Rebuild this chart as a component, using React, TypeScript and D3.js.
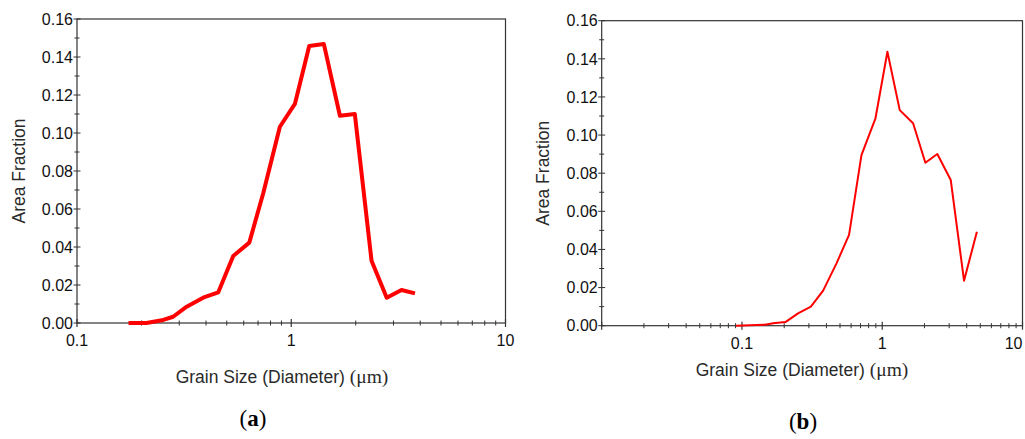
import React, { useEffect, useRef } from "react";
import * as d3 from "d3";

// panel (a)
const sizeA = [0.174, 0.211, 0.253, 0.281, 0.325, 0.388, 0.456, 0.536, 0.637, 0.74, 0.885, 1.04, 1.213, 1.42, 1.687, 1.98, 2.37, 2.79, 3.27, 3.78];
const fracA = [0, 0, 0.0016, 0.0033, 0.0086, 0.0133, 0.0161, 0.0353, 0.0423, 0.0683, 0.1033, 0.1153, 0.1458, 0.1468, 0.1091, 0.11, 0.0328, 0.0133, 0.0174, 0.0156];

// panel (b)
const sizeB = [0.0905, 0.146, 0.167, 0.204, 0.251, 0.31, 0.379, 0.472, 0.58, 0.711, 0.895, 1.089, 1.333, 1.66, 2.03, 2.47, 3.08, 3.83, 4.73];
const fracB = [0, 0.0005, 0.0013, 0.0019, 0.0065, 0.01, 0.0184, 0.0327, 0.0476, 0.0895, 0.1088, 0.1437, 0.1131, 0.1062, 0.0855, 0.0901, 0.0764, 0.0236, 0.0493];

const yTicks = [0, 0.02, 0.04, 0.06, 0.08, 0.1, 0.12, 0.14, 0.16];
const xLabelsA = [0.1, 1, 10];
const xLabelsB = [0.1, 1, 10];

const panels = [
  {
    xs: sizeA, ys: fracA, xDomain: [0.1, 10], left: 77, right: 505.5, top: 19, bottom: 323,
    xLabels: xLabelsA, lineW: 4, yTitleX: 19, xTitleX: 282, xTitleY: 383, tag: "a", tagX: 253, tagY: 426,
  },
  {
    xs: sizeB, ys: fracB, xDomain: [0.01, 10], left: 601.7, right: 1022.5, top: 20.7, bottom: 325.7,
    xLabels: xLabelsB, lineW: 2, yTitleX: 543, xTitleX: 802, xTitleY: 376, tag: "b", tagX: 803, tagY: 429,
  },
];

const sans = "Liberation Sans, Arial, sans-serif";
const serif = "Liberation Serif, Times New Roman, serif";

export default function App() {
  const svgRef = useRef<SVGSVGElement>(null);

  useEffect(() => {
    const svg = d3.select(svgRef.current);
    svg.selectAll("*").remove();
    const ink = "#333";

    panels.forEach((p) => {
      const x = d3.scaleLog().domain(p.xDomain).range([p.left, p.right]);
      const y = d3.scaleLinear().domain([0, 0.16]).range([p.bottom, p.top]);
      const g = svg.append("g");

      // minor ticks on the log axis
      const minor: number[] = [];
      for (let d = p.xDomain[0]; d < p.xDomain[1]; d *= 10) {
        for (let k = 2; k <= 9; k++) minor.push(d * k);
      }
      g.selectAll(".xm").data(minor).join("line")
        .attr("x1", (d) => x(d)).attr("x2", (d) => x(d))
        .attr("y1", p.bottom - 2.5).attr("y2", p.bottom + 2.5)
        .attr("stroke", ink).attr("stroke-width", 1);
      const decades = d3.range(Math.log10(p.xDomain[0]), Math.log10(p.xDomain[1]) + 1).map((e) => Math.pow(10, e));
      g.selectAll(".xM").data(decades).join("line")
        .attr("x1", (d) => x(d)).attr("x2", (d) => x(d))
        .attr("y1", p.bottom - 4).attr("y2", p.bottom + 4)
        .attr("stroke", ink).attr("stroke-width", 1.2);

      const yMinor = d3.range(0.01, 0.16, 0.02);
      g.selectAll(".ym").data(yMinor).join("line")
        .attr("x1", p.left - 2.5).attr("x2", p.left + 2.5)
        .attr("y1", (d) => y(d)).attr("y2", (d) => y(d))
        .attr("stroke", ink);
      g.selectAll(".yM").data(yTicks).join("line")
        .attr("x1", p.left - 3.5).attr("x2", p.left + 3.5)
        .attr("y1", (d) => y(d)).attr("y2", (d) => y(d))
        .attr("stroke", ink);

      g.append("rect")
        .attr("x", p.left).attr("y", p.top)
        .attr("width", p.right - p.left).attr("height", p.bottom - p.top)
        .attr("fill", "none").attr("stroke", ink).attr("stroke-width", 1.2);

      g.selectAll(".yl").data(yTicks).join("text")
        .attr("x", p.left - 4).attr("y", (d) => y(d))
        .attr("dy", "0.36em").attr("text-anchor", "end")
        .attr("font-family", sans).attr("font-size", 16)
        .attr("fill", "#111")
        .text((d) => d.toFixed(2));

      // last label sits at the very edge of panel (b); keep it inside the page
      g.selectAll(".xl").data(p.xLabels).join("text")
        .attr("x", (d) => Math.min(x(d), 1024))
        .attr("y", p.bottom + 23)
        .attr("text-anchor", (d) => (x(d) > 1010 ? "end" : "middle"))
        .attr("font-family", sans).attr("font-size", 16)
        .attr("fill", "#111")
        .text((d) => String(d));

      g.append("text")
        .attr("transform", `translate(${p.yTitleX},${(p.top + p.bottom) / 2}) rotate(-90)`)
        .attr("dy", "0.36em").attr("text-anchor", "middle")
        .attr("font-family", sans).attr("font-size", 17.5)
        .attr("fill", "#2a2a2a")
        .text("Area Fraction");

      const xt = g.append("text")
        .attr("x", p.xTitleX).attr("y", p.xTitleY)
        .attr("text-anchor", "middle").attr("fill", "#2a2a2a");
      xt.append("tspan").attr("font-family", sans).attr("font-size", 17.5)
        .text("Grain Size (Diameter) ");
      xt.append("tspan").attr("font-family", serif).attr("font-size", 19.5)
        .text("(μm)");

      const tag = g.append("text")
        .attr("x", p.tagX).attr("y", p.tagY).attr("text-anchor", "middle")
        .attr("font-family", serif).attr("font-size", 23)
        .attr("fill", "#000");
      tag.append("tspan").text("(");
      tag.append("tspan").attr("font-weight", "bold").text(p.tag);
      tag.append("tspan").text(")");

      const pts = p.xs.map((v, i) => [v, p.ys[i]] as [number, number]);
      g.append("path")
        .datum(pts)
        .attr("d", d3.line<[number, number]>().x((d) => x(d[0])).y((d) => y(d[1])))
        .attr("fill", "none").attr("stroke", "#ff0000")
        .attr("stroke-width", p.lineW).attr("stroke-linejoin", "round");
    });
  }, []);

  return (
    <div style={{ position: "absolute", left: 0, top: 0 }}>
      <svg ref={svgRef} width={1025} height={439} style={{ display: "block", background: "#fff" }} />
    </div>
  );
}
